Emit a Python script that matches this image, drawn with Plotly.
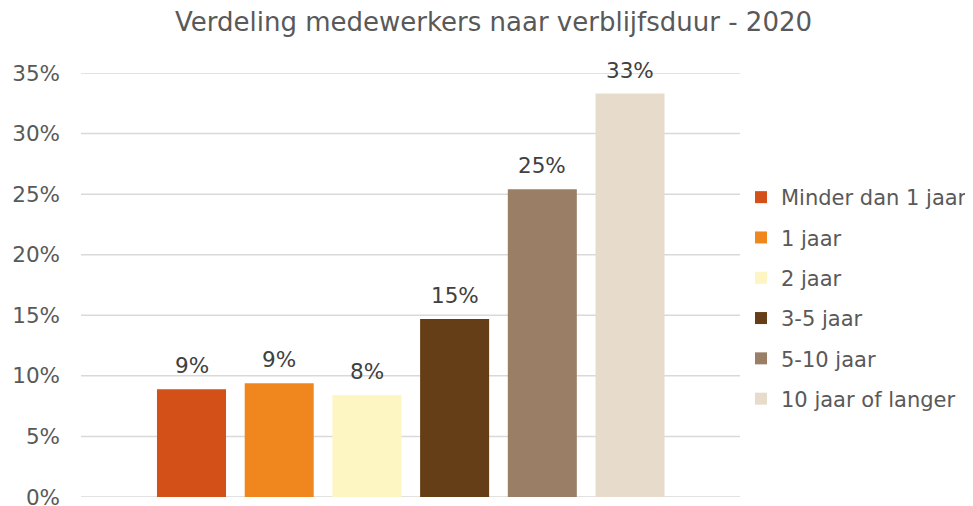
import plotly.graph_objects as go

categories = ["Minder dan 1 jaar", "1 jaar", "2 jaar", "3-5 jaar", "5-10 jaar", "10 jaar of langer"]
values = [0.089, 0.094, 0.084, 0.147, 0.254, 0.333]
colors = ["#D35019", "#F0871E", "#FDF5C2", "#653D16", "#9A7F66", "#E7DCCB"]
tick_vals = [0, 0.05, 0.10, 0.15, 0.20, 0.25, 0.30, 0.35]
tick_text = ["0%", "5%", "10%", "15%", "20%", "25%", "30%", "35%"]

FONT = "DejaVu Sans"
FS = 21.5

# page body has an 8px margin; compensate so the chart lands where it should
W, H = 965, 510

fig = go.Figure()
for i, (name, v, c) in enumerate(zip(categories, values, colors)):
    fig.add_trace(go.Bar(
        x=[i], y=[v], width=0.787, name=name,
        marker=dict(color=c, line=dict(width=0)),
        legendgroup=f"g{i}", hoverinfo="skip",
    ))
    fig.add_annotation(
        x=i, y=v, xref="x", yref="y", text=f"{round(v*100):.0f}%",
        showarrow=False, yanchor="bottom", xanchor="center", yshift=9,
        font=dict(family=FONT, size=FS, color="#404040"),
    )

# horizontal gridlines at every tick value (drawn under the bars)
for tv in tick_vals:
    fig.add_shape(type="line", xref="paper", yref="y", x0=0, x1=1, y0=tv, y1=tv,
                  line=dict(color="#D9D9D9", width=1.5), layer="below")

fig.update_layout(
    width=W, height=H,
    margin=dict(l=73, r=W - 73 - 659, t=65, b=H - 65 - 424, pad=0, autoexpand=False),
    paper_bgcolor="white", plot_bgcolor="white",
    barmode="overlay",
    title=dict(text="Verdeling medewerkers naar verblijfsduur - 2020",
               xref="container", x=485.5 / W, xanchor="center",
               yref="container", y=1 - 14 / H, yanchor="middle",
               font=dict(family=FONT, size=26, color="#595959")),
    font=dict(family=FONT, color="#595959"),
    showlegend=True,
    legend=dict(xref="container", x=733 / W, xanchor="left",
                yref="container", y=1 - 290 / H, yanchor="middle",
                font=dict(family=FONT, size=21, color="#595959"),
                tracegroupgap=10, traceorder="grouped", itemclick=False,
                bgcolor="rgba(0,0,0,0)"),
    xaxis=dict(range=[-1.26, 6.254], showticklabels=False, showgrid=False,
               zeroline=False, showline=False, fixedrange=True, automargin=False),
    yaxis=dict(range=[0, 0.35], tickvals=tick_vals, ticktext=tick_text,
               showgrid=False, zeroline=False, automargin=False,
               showline=False, ticks="", ticklabelstandoff=20,
               ticklabeloverflow="allow",
               tickfont=dict(family=FONT, size=FS, color="#595959")),
)

fig.write_html("out.html")
